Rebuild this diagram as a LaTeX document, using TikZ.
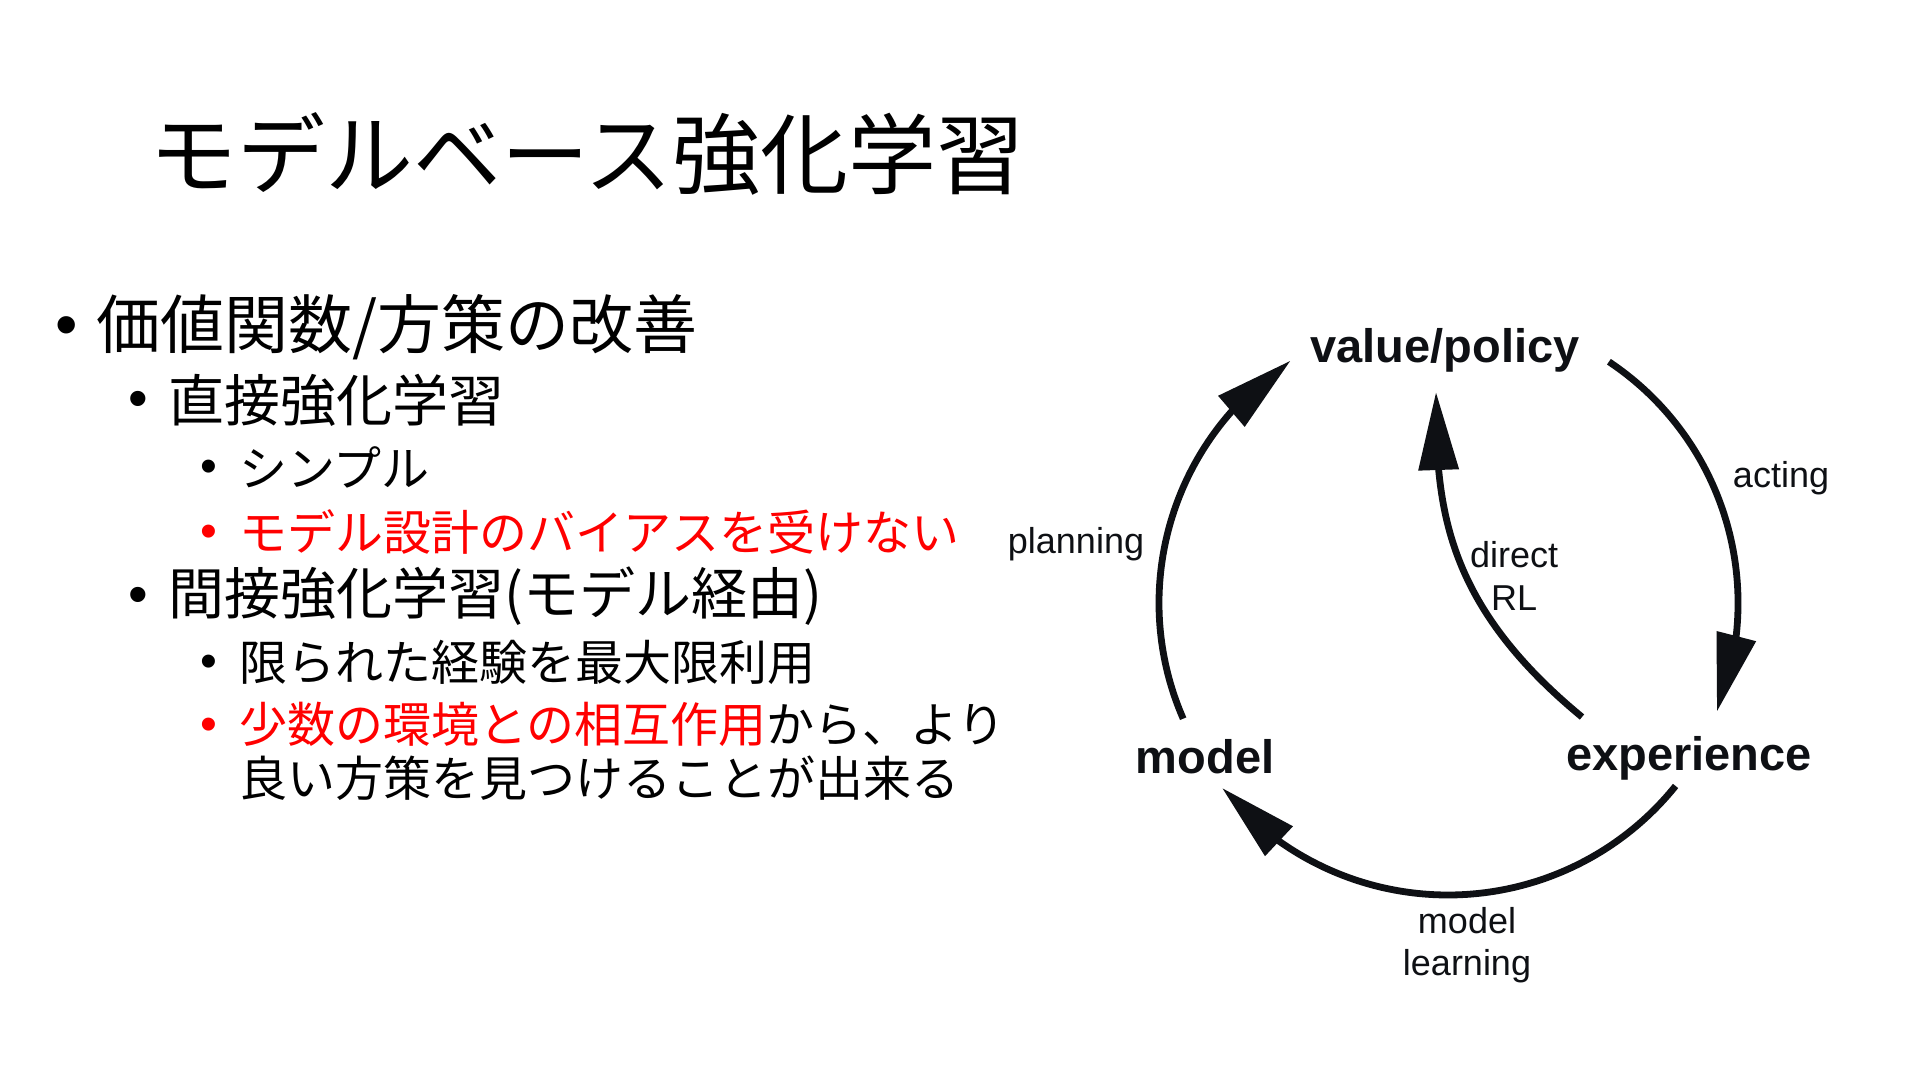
\documentclass[tikz,border=0pt]{standalone}
\usepackage{fontspec}
\setmainfont{Noto Sans CJK JP}
\newfontfamily\hv{Liberation Sans}
\usetikzlibrary{arrows.meta,bending}
\definecolor{redtxt}{RGB}{255,0,0}
\definecolor{ink}{RGB}{14,16,20}
\begin{document}
\begin{tikzpicture}[x=0.5pt,y=-0.5pt,
  every node/.style={inner sep=0pt,outer sep=0pt},
  ttl/.style={anchor=west,font=\fontsize{44pt}{52pt}\selectfont},
  lvone/.style={anchor=west,font=\fontsize{32pt}{38pt}\selectfont},
  lvtwo/.style={anchor=west,font=\fontsize{28pt}{34pt}\selectfont},
  lvthree/.style={anchor=west,align=left,font=\fontsize{24pt}{27pt}\selectfont},
  bulone/.style={anchor=center,font=\hv\fontsize{32pt}{38pt}\selectfont},
  bultwo/.style={anchor=center,font=\hv\fontsize{28pt}{34pt}\selectfont},
  bulthree/.style={anchor=center,font=\hv\fontsize{24pt}{28pt}\selectfont},
  hot/.style={text=redtxt},
  boldlab/.style={text=ink,font=\hv\bfseries\fontsize{23.5pt}{28pt}\selectfont},
  lab/.style={text=ink,align=center,font=\hv\fontsize{18pt}{21.3pt}\selectfont},
  cyc/.style={draw=ink,line width=3.4pt,-{Triangle[length=39pt,width=19.5pt]}}
]
\useasboundingbox (0,0) rectangle (1920,1080);
\fill[white] (0,0) rectangle (1920,1080);

% title
\node[ttl] (title) at (149,154) {モデルベース強化学習};

% bullets
\node[bulone] (b1) at (67,332) {•};
\node[lvone] (t1) at (96,327) {価値関数/方策の改善};

\node[bultwo] (b2) at (138.6,404) {•};
\node[lvtwo] (t2) at (168.5,400) {直接強化学習};

\node[bulthree] (b3) at (208.6,471) {•};
\node[lvthree] (t3) at (239,467) {シンプル};

\node[bulthree,hot] (b4) at (208.6,536) {•};
\node[lvthree,hot] (t4) at (239,532) {モデル設計のバイアスを受けない};

\node[bultwo] (b5) at (138.6,600) {•};
\node[lvtwo] (t5) at (168.5,596) {間接強化学習(モデル経由)};

\node[bulthree] (b6) at (208.6,666) {•};
\node[lvthree] (t6) at (239,662) {限られた経験を最大限利用};

\node[bulthree,hot] (b7) at (208.6,729) {•};
\node[lvthree] (t7) at (239,751) {{\color{redtxt}少数の環境との相互作用}から、より\\良い方策を見つけることが出来る};

% diagram
\coordinate (cc) at (1448,603);
\node[boldlab] (vp) at (1445,350) {value/policy};
\node[boldlab] (ex) at (1689,758) {experience};
\node[boldlab] (md) at (1205,757) {model};

\draw[cyc] (cc) ++(-56.3:290) coordinate (actS) arc[start angle=-56.3,end angle=22,radius=290] coordinate (actE);
\draw[cyc] (cc) ++(38.8:292) coordinate (mlS) arc[start angle=38.8,end angle=140.7,radius=292] coordinate (mlE);
\draw[cyc] (cc) ++(156.4:289) coordinate (plS) arc[start angle=156.4,end angle=237,radius=289] coordinate (plE);
\coordinate (drS) at (1582,717);
\coordinate (drE) at (1436,392);
\draw[cyc] (drS) .. controls (1440,600) and (1436,500) .. (drE);

\node[lab] (acting) at (1781,478) {acting};
\node[lab] (planning) at (1076,544) {planning};
\node[lab] (direct) at (1514,576) {direct\\RL};
\node[lab,font=\hv\fontsize{18pt}{20.75pt}\selectfont] (mlearn) at (1467,945) {model\\learning};
\end{tikzpicture}
\end{document}
